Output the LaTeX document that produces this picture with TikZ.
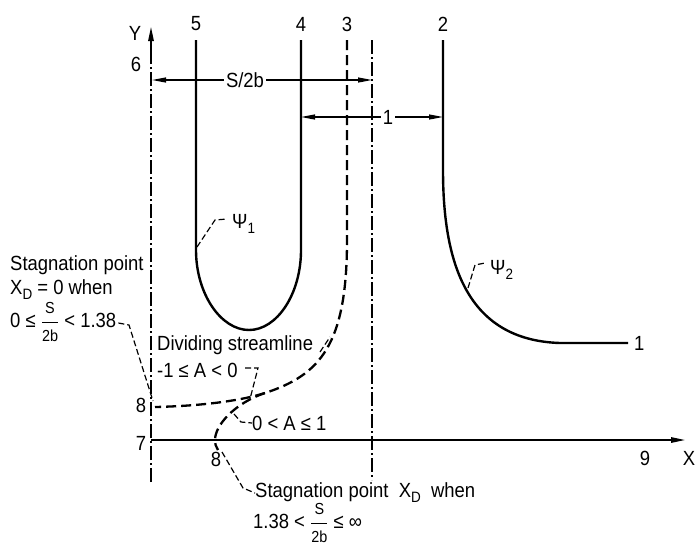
\documentclass[tikz,border=0pt]{standalone}
\usepackage{amsmath}
\usepackage{fontspec}
\setmainfont{Liberation Sans}[FakeStretch=0.9]
\usetikzlibrary{arrows.meta}
\newcommand\myfrac[2]{$\dfrac{\text{\fontsize{16}{16}\selectfont #1}}{\text{\fontsize{16}{16}\selectfont #2}}$}
\newcommand\mysub[2]{#1\raisebox{-5pt}{\fontsize{15}{15}\selectfont #2}}
\begin{document}
\begin{tikzpicture}[x=1pt,y=-1pt,
  every node/.style={font=\fontsize{20.5}{22}\selectfont, inner sep=0pt},
  wall/.style={line width=2.4pt},
  dstream/.style={line width=2.3pt, dash pattern=on 10pt off 5pt},
  axisline/.style={line width=1.4pt},
  dashdot/.style={line width=1.2pt, dash pattern=on 14pt off 3pt on 2pt off 3pt},
  tip/.style={-{Triangle[length=14pt,width=5.5pt]}},
  dimline/.style={line width=1.2pt, {Triangle[length=14pt,width=5pt]}-{Triangle[length=14pt,width=5pt]}},
  leader/.style={line width=1.2pt, dash pattern=on 6pt off 3pt},
  lbl/.style={anchor=west},
  cut/.style={fill=white, inner sep=2pt},
]
\useasboundingbox (0,0) rectangle (695,547);

% key coordinates
\coordinate (ybot) at (151,482);
\coordinate (ymid) at (151,55);
\coordinate (ytop) at (151,27);
\coordinate (dtop) at (372,40);
\coordinate (dbot) at (372,480);
\coordinate (o) at (151,440);
\coordinate (xtip) at (685,440);
\coordinate (split) at (265,393);
\coordinate (sy) at (155,407);
\coordinate (sx) at (218,450);

% axes
\draw[dashdot] (ybot) -- (ymid);
\draw[axisline, tip] (ymid) -- (ytop);
\draw[dashdot] (dtop) -- (dbot);
\draw[axisline, tip] (o) -- (xtip);

% walls / streamlines
\draw[wall] (196,40) -- (196,250) .. controls (196,294) and (221,330) .. (249,330)
  .. controls (277,330) and (301,294) .. (301,250) -- (301,40);
\draw[wall] (443,40) -- (443,170) .. controls (443,260) and (465,340) .. (560,343) -- (628,343);

% dividing streamline
\draw[dstream] (347,40) -- (347,240) .. controls (347,345) and (320,375) .. (split)
  .. controls (235,403) and (215,425) .. (215,440) .. controls (215,444) and (216,447) .. (sx);
\draw[dstream] (split) .. controls (240,401) and (200,406) .. (sy);

% dimension arrows
\coordinate (s1) at (152,80);
\coordinate (s2) at (372,80);
\draw[dimline] (s1) -- (s2);
\node[cut] (s2b) at (245,80) {S/2b};
\coordinate (u1) at (301,117);
\coordinate (u2) at (443,117);
\draw[dimline] (u1) -- (u2);
\node[cut] (one) at (388,117) {1};

% top / axis labels
\node (l5) at (196,24) {5};
\node (l4) at (301,24) {4};
\node (l3) at (347,24) {3};
\node (l2) at (443,24) {2};
\node (lY) at (135,33) {Y};
\node (l6) at (136,64) {6};
\node (l7) at (141,443) {7};
\node (l8a) at (141,405) {8};
\node (l8b) at (216,459) {8};
\node (l9) at (645,458) {9};
\node (lX) at (689,458) {X};
\node[lbl] (l1) at (634,343) {1};

% psi labels
\node[lbl] (psi1) at (232,224) {\mysub{Ψ}{1}};
\draw[leader] (197,247) -- (215,220) -- (227,219);
\node[lbl] (psi2) at (490,270) {\mysub{Ψ}{2}};
\draw[leader] (468,288) -- (475,265) -- (485,263);

% left annotation
\node[lbl] (st1) at (10,265) {Stagnation point};
\node[lbl] (st2) at (10,290) {\mysub{X}{D} = 0 when};
\node[lbl] (st3) at (10,322) {0 ≤ \myfrac{S}{2b} < 1.38};
\draw[leader] (st3.east) ++(2,1) -- (129,325) -- (153,401);

% dividing streamline annotation
\node[lbl] (ds1) at (157,345) {Dividing streamline};
\draw[leader] (320,352) -- (330,337);
\node[lbl] (ds2) at (157,370) {-1 ≤ A < 0};
\draw[leader] (245,368) -- (258,368) -- (250,399);
\node[lbl] (ds3) at (252,423) {0 < A ≤ 1};
\draw[leader] (234,414) -- (241,422) -- (ds3.west);

% bottom annotation
\node[lbl] (sb1) at (255,493) {Stagnation point \ \mysub{X}{D} \ when};
\node[lbl] (sb2) at (253,523) {1.38 < \myfrac{S}{2b} ≤ ∞};
\draw[leader] (222,452) -- (243,488) -- (sb1.west);
\end{tikzpicture}
\end{document}
